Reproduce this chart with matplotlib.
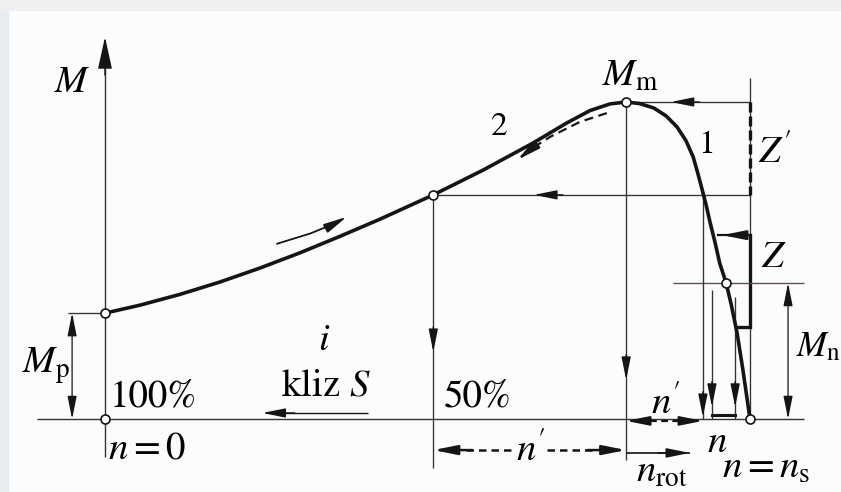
import matplotlib
matplotlib.use("Agg")
import matplotlib.pyplot as plt
from matplotlib.patches import Rectangle

# torque-speed curve
# n is speed relative to n_s, M is torque relative to M_m
curve_n = [0.000, 0.054, 0.116, 0.178, 0.240, 0.302, 0.364, 0.426, 0.509, 0.586,
           0.664, 0.716, 0.752, 0.783, 0.808, 0.829, 0.851, 0.870, 0.887, 0.901,
           0.912, 0.919, 0.926, 0.932, 0.938, 0.946, 0.953, 0.963, 0.971, 0.980,
           0.989, 1.000]
curve_M = [0.334, 0.359, 0.393, 0.432, 0.476, 0.524, 0.576, 0.630, 0.707, 0.785,
           0.871, 0.934, 0.973, 0.994, 1.000, 0.995, 0.981, 0.956, 0.921, 0.877,
           0.826, 0.776, 0.722, 0.675, 0.621, 0.555, 0.492, 0.429, 0.360, 0.271,
           0.155, 0.000]

# marked points
M_p = 0.334                    # starting torque
n_m, M_m = 0.808, 1.0          # breakdown torque
n_half, M_half = 0.509, 0.707  # 50 % slip
n_b1 = 0.927                   # branch 1 at M_half
n_n, M_n = 0.963, 0.429        # nominal point
n_s = 1.0
M_z_top, M_z_bot, n_z_bot = 0.580, 0.290, 0.981
n_drop = [0.941, 0.977]

INK = "#151515"
THIN = "#333333"

plt.rcParams["font.family"] = "STIXGeneral"
plt.rcParams["mathtext.fontset"] = "stix"

fig = plt.figure(figsize=(8.41, 4.92), dpi=100, facecolor="#fcfcfc")
# scan border
fig.patches.append(Rectangle((0, 0), 8 / 841, 1, transform=fig.transFigure,
                             color="#e9ecef", zorder=0))
fig.patches.append(Rectangle((0, 1 - 10 / 492), 1, 10 / 492, transform=fig.transFigure,
                             color="#eef0f2", zorder=0))

ax = fig.add_axes([0, 0, 1, 1])
ax.set_axis_off()
ax.patch.set_alpha(0)
ax.set_xlim(-105 / 645, 736 / 645)
ax.set_ylim(-73 / 317, 419 / 317)


def head(x, y, dx, dy, lw=1.0, hl=0.7, hw=0.14):
    ax.annotate("", xy=(x, y), xytext=(x - dx, y - dy),
                arrowprops=dict(arrowstyle=f"-|>,head_length={hl},head_width={hw}",
                                mutation_scale=20, lw=lw, color=INK,
                                shrinkA=0, shrinkB=0))


def dim(x, y0, y1):
    ax.annotate("", xy=(x, y0), xytext=(x, y1),
                arrowprops=dict(arrowstyle="<|-|>,head_length=0.7,head_width=0.14",
                                mutation_scale=20, lw=0.9, color=INK,
                                shrinkA=0, shrinkB=0))


def line(xs, ys, lw=0.95, color=THIN, **kw):
    ax.plot(xs, ys, color=color, lw=lw, solid_capstyle="butt", **kw)


# axes
line([0, 0], [-0.12, 1.12], lw=1.0)
head(0, 1.205, 0, 0.12, lw=1.0, hl=1.0, hw=0.22)
line([-0.106, 1.084], [0, 0], lw=1.0)

# main curve
ax.plot(curve_n, curve_M, color=INK, lw=2.6, solid_joinstyle="round",
        solid_capstyle="round", zorder=4)

# starting torque
line([-0.057, 0], [M_p, M_p])
dim(-0.051, M_p, 0)

# 50 % slip point
line([n_half, n_half], [M_half, -0.155])
head(n_half, 0.211, 0, -0.08)
line([n_half, n_s], [M_half, M_half])
head(0.665, M_half, -0.045, 0)

# breakdown point
line([n_m, n_m], [M_m, -0.13])
head(n_m, 0.123, 0, -0.08)
line([n_m, n_s], [M_m, M_m])
head(0.877, M_m, -0.045, 0)

# right vertical (n_s)
line([n_s, n_s], [1.076, 0])
ax.plot([n_s, n_s], [M_m, M_half], color=INK, lw=2.4, ls=(0, (3, 1.2)))

# Z bracket
ax.plot([0.950, n_s], [M_z_top, M_z_top], color=INK, lw=1.6)
head(0.957, M_z_top, -0.03, 0, lw=1.6)
ax.plot([n_s, n_s, n_z_bot], [M_z_top, M_z_bot, M_z_bot], color=INK, lw=2.4,
        solid_joinstyle="miter")

# nominal torque line
line([0.881, 1.083], [M_n, M_n], color="#5a4a4e")
dim(1.059, M_n, 0)

# drop lines to the speed axis
line([n_b1, n_b1], [M_half, 0])
head(n_b1, 0.006, 0, -0.08)
line([n_drop[0], n_drop[0]], [0.407, 0])
head(n_drop[0], 0.038, 0, -0.08)
line([n_drop[1], n_drop[1]], [0.385, 0])
head(n_drop[1], 0.038, 0, -0.08)
ax.plot(n_drop, [0.013, 0.013], color=INK, lw=2.2)

# n' on axis and below
ax.plot([n_m + 0.02, n_b1 - 0.02], [-0.006, -0.006], color=INK, lw=1.6, ls=(0, (3, 2)))
head(n_m, -0.006, -0.04, 0, lw=1.4)
head(n_b1, -0.006, 0.04, 0, lw=1.4)
ax.plot([n_half + 0.05, 0.635], [-0.098, -0.098], color=INK, lw=1.8, ls=(0, (3, 2)))
ax.plot([0.685, n_m - 0.05], [-0.098, -0.098], color=INK, lw=1.8, ls=(0, (3, 2)))
head(n_half, -0.098, -0.06, 0, lw=1.8)
head(n_m, -0.098, 0.06, 0, lw=1.8)
line([n_m, 0.907], [-0.107, -0.107], lw=1.2, color=INK)
head(0.907, -0.107, 0.05, 0, lw=1.2)

# slip arrow
line([0.408, 0.26], [0.019, 0.019], lw=1.0, color=INK)
head(0.244, 0.019, -0.05, 0, lw=1.0)

# direction arrows along the curve
ax.plot([0.267, 0.318, 0.360], [0.553, 0.585, 0.620], color=INK, lw=1.3)
head(0.375, 0.638, 0.025, 0.028, lw=1.3)
ax.plot([0.778, 0.736, 0.690, 0.655], [0.965, 0.937, 0.890, 0.845],
        color=INK, lw=1.6, ls=(0, (4, 2.5)))
head(0.639, 0.817, -0.025, -0.04, lw=1.6)

# open markers
ax.plot([0, 0, n_half, n_m, n_n, n_s], [M_p, 0, M_half, M_m, M_n, 0], ls="none",
        marker="o", ms=6.5, mfc="white", mec=INK, mew=1.2, zorder=5)

# labels
fs = 28
ax.text(-0.050, 1.06, "$M$", fontsize=fs, ha="center", va="center")
ax.text(-0.092, 0.167, r"$M_{\mathrm{p}}$", fontsize=fs, ha="center", va="center")
ax.text(0.008, 0.069, "100%", fontsize=fs, ha="left", va="center")
ax.text(0.004, -0.095, "$n = 0$", fontsize=fs, ha="left", va="center")
ax.text(0.340, 0.246, "$i$", fontsize=fs, ha="center", va="center")
ax.text(0.342, 0.104, "kliz $S$", fontsize=fs, ha="center", va="center")
ax.text(0.525, 0.069, "50%", fontsize=fs, ha="left", va="center")
ax.text(0.612, 0.921, "2", fontsize=24, ha="center", va="center")
ax.text(0.933, 0.864, "1", fontsize=24, ha="center", va="center")
ax.text(0.814, 1.079, r"$M_{\mathrm{m}}$", fontsize=fs, ha="center", va="center")
ax.text(1.039, 0.839, "$Z'$", fontsize=fs, ha="center", va="center")
ax.text(1.037, 0.508, "$Z$", fontsize=fs, ha="center", va="center")
ax.text(1.072, 0.224, r"$M_{\mathrm{n}}$", fontsize=26, ha="left", va="center")
ax.text(0.870, 0.050, "$n'$", fontsize=fs, ha="center", va="center")
ax.text(0.661, -0.098, "$n'$", fontsize=fs, ha="center", va="center")
ax.text(0.949, -0.076, "$n$", fontsize=fs, ha="center", va="center")
ax.text(0.864, -0.170, r"$n_{\mathrm{rot}}$", fontsize=fs, ha="center", va="center")
ax.text(1.025, -0.155, r"$n = n_{\mathrm{s}}$", fontsize=fs, ha="center", va="center")

fig.savefig("out.png", dpi=100, facecolor=fig.get_facecolor())
